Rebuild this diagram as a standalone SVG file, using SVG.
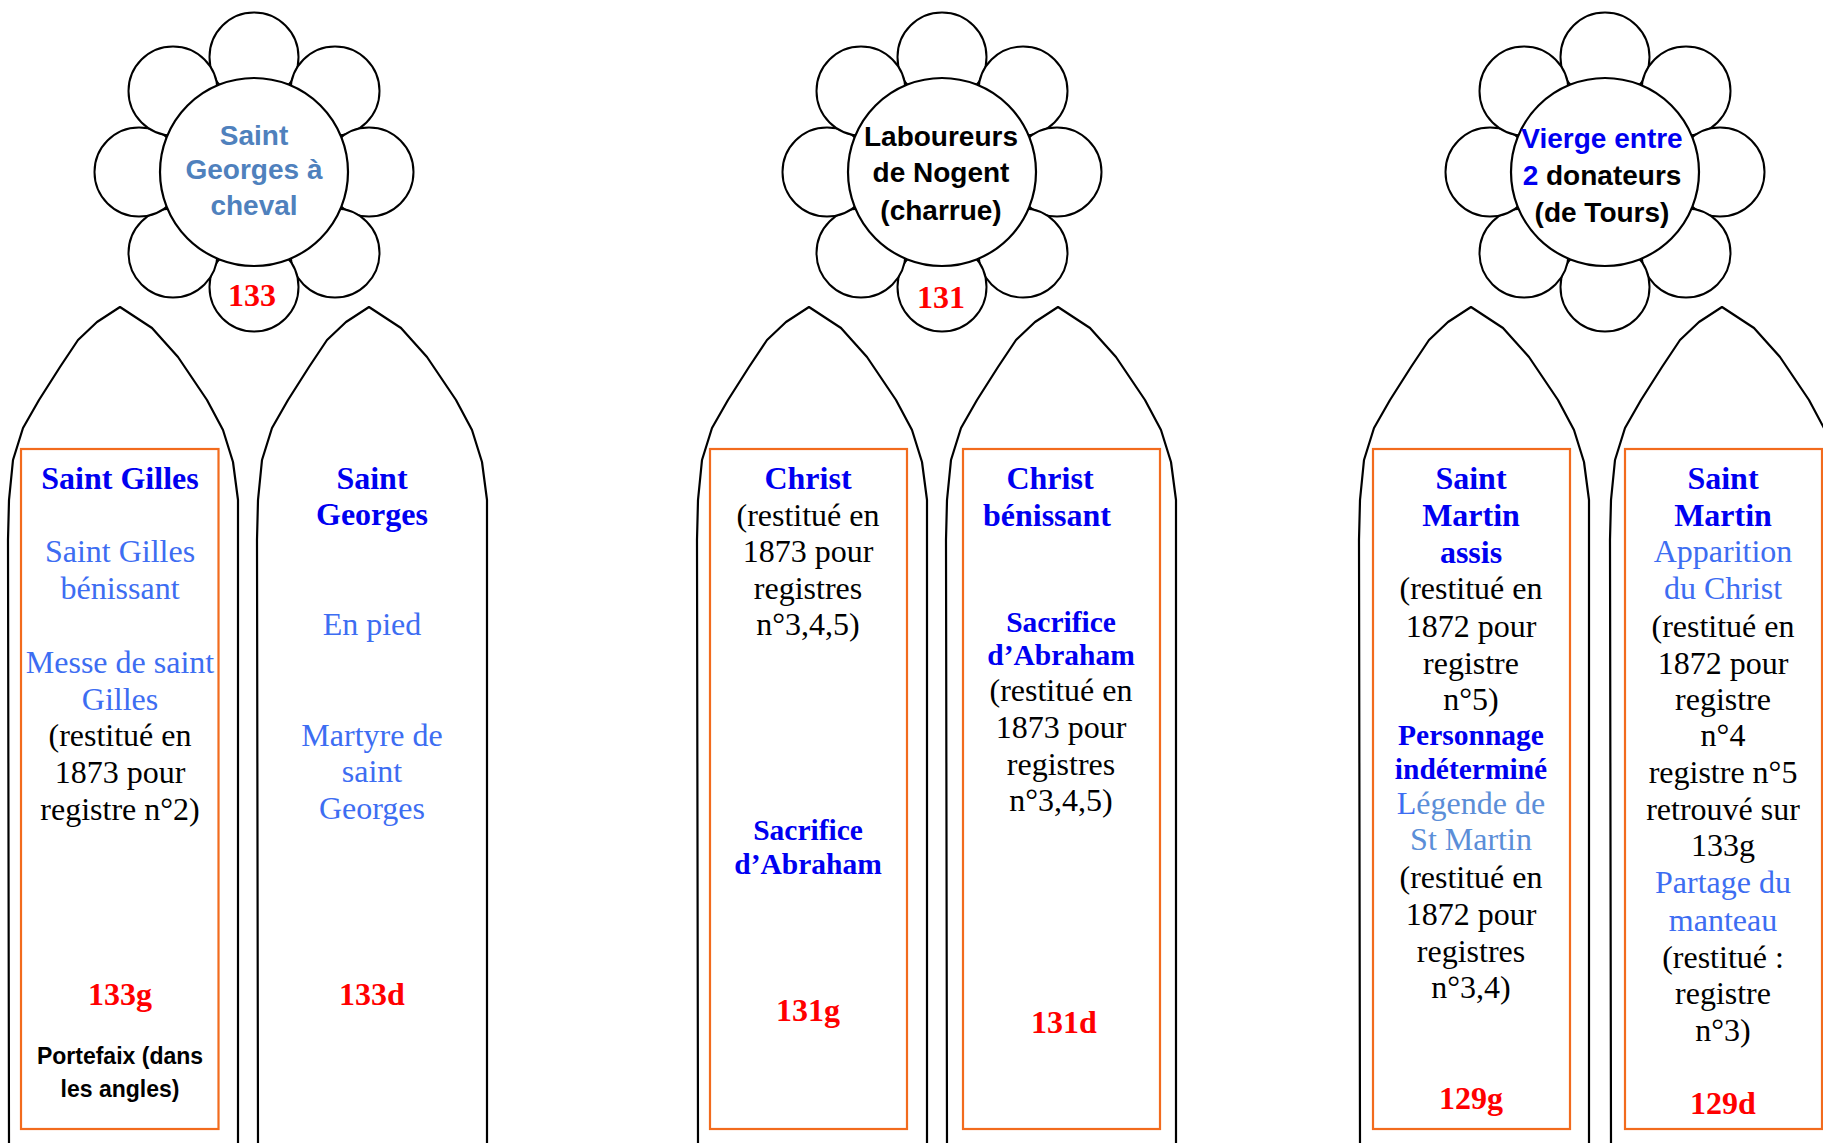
<svg xmlns="http://www.w3.org/2000/svg" width="1823" height="1143" viewBox="0 0 1823 1143">
<style>
.petal{fill:#fff;stroke:#000;stroke-width:2}
.core{fill:#fff;stroke:#000;stroke-width:2.2}
.arch{fill:none;stroke:#000;stroke-width:2.2;stroke-linejoin:round}
.box{fill:none;stroke:#F26B1D;stroke-width:2.2}
.t{font-family:"Liberation Serif","Times New Roman",serif;font-size:32px;text-anchor:middle}
.h{font-weight:bold;fill:#0000F0}
.s{font-size:29.5px}
.lb{fill:#3D6DF2}
.sb{fill:#5B8ED8}
.k{fill:#000}
.r{font-weight:bold;fill:#FF0000}
.ft{font-family:"Liberation Sans",Arial,sans-serif;font-weight:bold;font-size:28px;text-anchor:middle}
.num{font-family:"Liberation Serif","Times New Roman",serif;font-weight:bold;font-size:32px;fill:#FF0000;text-anchor:middle}
.pf{font-family:"Liberation Sans",Arial,sans-serif;font-weight:bold;font-size:23px;text-anchor:middle;fill:#000}
</style>
<defs>
<g id="petals">
<circle class="petal" cx="0" cy="-115" r="44.5"/>
<circle class="petal" cx="81" cy="-81" r="44.5"/>
<circle class="petal" cx="115" cy="0" r="44.5"/>
<circle class="petal" cx="81" cy="81" r="44.5"/>
<circle class="petal" cx="0" cy="115" r="44.5"/>
<circle class="petal" cx="-81" cy="81" r="44.5"/>
<circle class="petal" cx="-115" cy="0" r="44.5"/>
<circle class="petal" cx="-81" cy="-81" r="44.5"/>
<circle class="core" cx="0" cy="0" r="94"/>
</g>
<path id="archShape" class="arch" d="M-111,1143 L-112,540 L-111,500 L-107,460 L-97,428 L-81,400 L-60,367 L-42,340 L-23,322 L0,307 L32,328 L58,357 L87,400 L103,430 L113,462 L118,500 L118,1143"/>
</defs>

<g id="rose133">
<use href="#petals" x="254" y="172"/>
<text class="ft" fill="#4F81BD" x="254" y="145">Saint</text>
<text class="ft" fill="#4F81BD" x="254" y="179">Georges à</text>
<text class="ft" fill="#4F81BD" x="254" y="215">cheval</text>
<text class="num" x="252" y="306">133</text>
</g>

<g id="rose131">
<use href="#petals" x="942" y="172"/>
<text class="ft" x="941" y="146">Laboureurs</text>
<text class="ft" x="941" y="182">de Nogent</text>
<text class="ft" x="941" y="220">(charrue)</text>
<text class="num" x="941" y="308">131</text>
</g>

<g id="rose129">
<use href="#petals" x="1605" y="172"/>
<text class="ft" x="1602" y="148"><tspan fill="#0000F0">Vierge entre</tspan></text>
<text class="ft" x="1602" y="185"><tspan fill="#0000F0">2</tspan> donateurs</text>
<text class="ft" x="1602" y="222">(de Tours)</text>
</g>

<g id="lancet133g">
<use href="#archShape" x="120" y="0"/>
<rect class="box" x="21" y="449" width="197.5" height="680"/>
<text class="t h" x="120" y="489">Saint Gilles</text>
<text class="t lb" x="120" y="562">Saint Gilles</text>
<text class="t lb" x="120" y="599">bénissant</text>
<text class="t lb" x="120" y="673">Messe de saint</text>
<text class="t lb" x="120" y="710">Gilles</text>
<text class="t k" x="120" y="746">(restitué en</text>
<text class="t k" x="120" y="783">1873 pour</text>
<text class="t k" x="120" y="820">registre n°2)</text>
<text class="t r" x="120" y="1005">133g</text>
<text class="pf" x="120" y="1064">Portefaix (dans</text>
<text class="pf" x="120" y="1097">les angles)</text>
</g>

<g id="lancet133d">
<use href="#archShape" x="369" y="0"/>
<text class="t h" x="372" y="489">Saint</text>
<text class="t h" x="372" y="525">Georges</text>
<text class="t lb" x="372" y="635">En pied</text>
<text class="t lb" x="372" y="746">Martyre de</text>
<text class="t lb" x="372" y="782">saint</text>
<text class="t lb" x="372" y="819">Georges</text>
<text class="t r" x="372" y="1005">133d</text>
</g>

<g id="lancet131g">
<use href="#archShape" x="809" y="0"/>
<rect class="box" x="710" y="449" width="197" height="680"/>
<text class="t h" x="808" y="489">Christ</text>
<text class="t k" x="808" y="526">(restitué en</text>
<text class="t k" x="808" y="562">1873 pour</text>
<text class="t k" x="808" y="599">registres</text>
<text class="t k" x="808" y="635">n°3,4,5)</text>
<text class="t h s" x="808" y="840">Sacrifice</text>
<text class="t h s" x="808" y="874">d’Abraham</text>
<text class="t r" x="808" y="1021">131g</text>
</g>

<g id="lancet131d">
<use href="#archShape" x="1058" y="0"/>
<rect class="box" x="963" y="449" width="197" height="680"/>
<text class="t h" x="1050" y="489">Christ</text>
<text class="t h" x="1047" y="526">bénissant</text>
<text class="t h s" x="1061" y="632">Sacrifice</text>
<text class="t h s" x="1061" y="665">d’Abraham</text>
<text class="t k" x="1061" y="701">(restitué en</text>
<text class="t k" x="1061" y="738">1873 pour</text>
<text class="t k" x="1061" y="775">registres</text>
<text class="t k" x="1061" y="811">n°3,4,5)</text>
<text class="t r" x="1064" y="1033">131d</text>
</g>

<g id="lancet129g">
<use href="#archShape" x="1471" y="0"/>
<rect class="box" x="1373" y="449" width="197" height="680"/>
<text class="t h" x="1471" y="489">Saint</text>
<text class="t h" x="1471" y="526">Martin</text>
<text class="t h" x="1471" y="563">assis</text>
<text class="t k" x="1471" y="599">(restitué en</text>
<text class="t k" x="1471" y="637">1872 pour</text>
<text class="t k" x="1471" y="674">registre</text>
<text class="t k" x="1471" y="710">n°5)</text>
<text class="t h s" x="1471" y="745">Personnage</text>
<text class="t h s" x="1471" y="779">indéterminé</text>
<text class="t sb" x="1471" y="814"><tspan fill="#3D6DF2">L</tspan>égende de</text>
<text class="t sb" x="1471" y="850">St Martin</text>
<text class="t k" x="1471" y="888">(restitué en</text>
<text class="t k" x="1471" y="925">1872 pour</text>
<text class="t k" x="1471" y="962">registres</text>
<text class="t k" x="1471" y="998">n°3,4)</text>
<text class="t r" x="1471" y="1109">129g</text>
</g>

<g id="lancet129d">
<use href="#archShape" x="1722" y="0"/>
<rect class="box" x="1625" y="449" width="197" height="680"/>
<text class="t h" x="1723" y="489">Saint</text>
<text class="t h" x="1723" y="526">Martin</text>
<text class="t lb" x="1723" y="562">Apparition</text>
<text class="t lb" x="1723" y="599">du Christ</text>
<text class="t k" x="1723" y="637">(restitué en</text>
<text class="t k" x="1723" y="674">1872 pour</text>
<text class="t k" x="1723" y="710">registre</text>
<text class="t k" x="1723" y="746">n°4</text>
<text class="t k" x="1723" y="783">registre n°5</text>
<text class="t k" x="1723" y="820">retrouvé sur</text>
<text class="t k" x="1723" y="856">133g</text>
<text class="t lb" x="1723" y="893">Partage du</text>
<text class="t lb" x="1723" y="931">manteau</text>
<text class="t k" x="1723" y="968">(restitué :</text>
<text class="t k" x="1723" y="1004">registre</text>
<text class="t k" x="1723" y="1041">n°3)</text>
<text class="t r" x="1723" y="1114">129d</text>
</g>

<g id="connectors"></g>
</svg>
